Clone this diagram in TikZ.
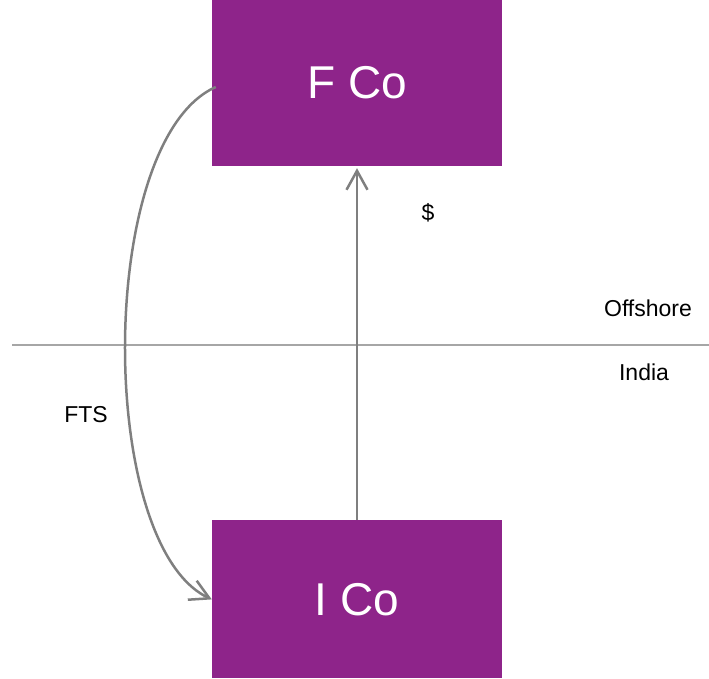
\documentclass[tikz,border=0pt]{standalone}
\usepackage{fontspec}
\setmainfont{Liberation Sans}
\usetikzlibrary{positioning, arrows.meta}
\definecolor{copurple}{HTML}{8E248A}
\definecolor{flowgray}{HTML}{7F7F7F}
\definecolor{bordergray}{HTML}{A6A6A6}
\tikzset{
x=1pt, y=-1pt, % one unit per pixel, y pointing down
company/.style={fill=copurple, text=white, minimum width=290pt, font=\fontsize{46}{50}\selectfont}, % the two company boxes
flow/.style={draw=flowgray, line width=2.5pt, -{Straight Barb[length=19pt, width=21pt]}}, % the grey arrows
tag/.style={font=\fontsize{23}{26}\selectfont}, % small labels
}
\begin{document}
\begin{tikzpicture}
                \useasboundingbox (0,0) rectangle (709,678);
                \node[company, minimum height=166pt] (fco) at (357,83) {F Co};
                \node[company, minimum height=158pt, below=354pt of fco] (ico) {I Co};
                \coordinate (bleft) at (12,345);
                \coordinate (bright) at (709,345);
                \draw[bordergray, line width=1.8pt] (bleft) -- (bright);
                \node[tag] (dollar) at (428,213) {\$};
                \node[tag] (offshore) at (648,308) {Offshore};
                \node[tag] (india) at (644,372) {India};
                \node[tag] (fts) at (86,415) {FTS};
                \draw[flow] (ico.north) -- ([yshift=-2pt]fco.south);
                \draw[flow] ([xshift=4pt, yshift=-4pt]fco.west) .. controls (96,140) and (96,545) .. (ico.west);
                \end{tikzpicture}
\end{document}
